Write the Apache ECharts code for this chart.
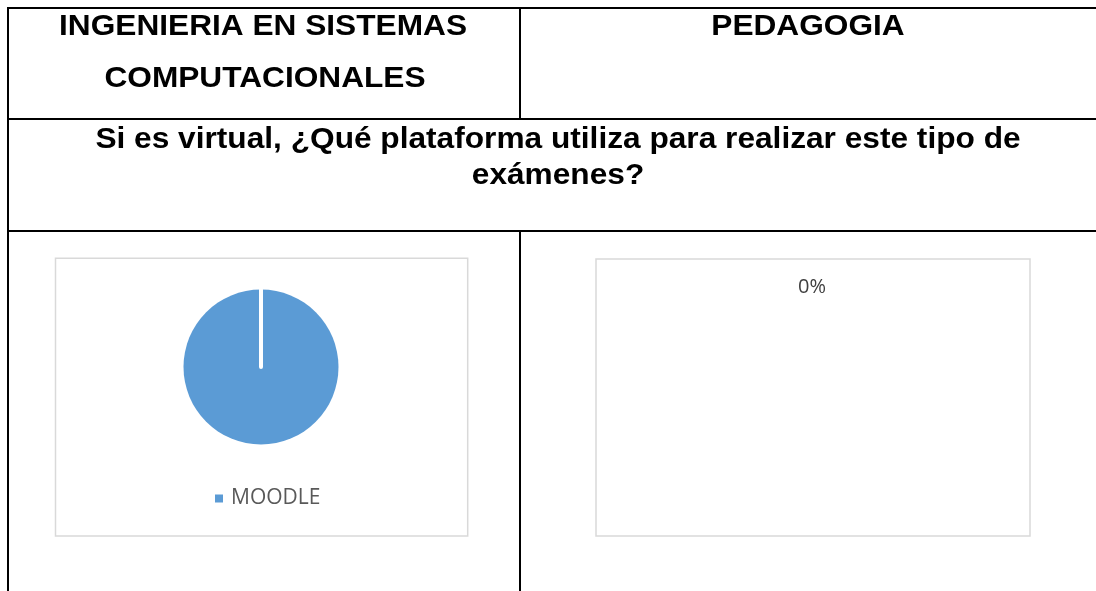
<!DOCTYPE html>
<html>
<head>
<meta charset="utf-8">
<script src="https://cdn.jsdelivr.net/npm/echarts@6/dist/echarts.min.js"></script>
<style>
  html, body { margin: 0; padding: 0; background: #fff; }
  #tabla { width: 1096px; height: 591px; }
</style>
</head>
<body>
<div id="tabla"></div>
<script>
// datos de la pregunta
const categorias = ['MOODLE', 'OTRA'];
const ingSistemas = [100, 0];   // ingeniería en sistemas computacionales
const pedagogia = [0];          // pedagogía (sin respuestas)
const leyenda = ['MOODLE'];

const carreraIzq = ['INGENIERIA EN SISTEMAS', 'COMPUTACIONALES'];
const carreraDer = 'PEDAGOGIA';
const pregunta = ['Si es virtual, ¿Qué plataforma utiliza para realizar este tipo de', 'exámenes?'];

const tablaChart = echarts.init(document.getElementById('tabla'));

const titulo = function (texto, x, y) {
    return {
        type: 'text', x: x, y: y, scaleX: 1.055,
        style: {
            text: texto, align: 'center', verticalAlign: 'middle',
            fontFamily: 'Liberation Sans', fontWeight: 'bold', fontSize: 30, fill: '#000'
        }
    };
};

const linea = function (x1, y1, x2, y2) {
    return {
        type: 'line', shape: { x1: x1, y1: y1, x2: x2, y2: y2 },
        style: { stroke: '#000', lineWidth: 2 }
    };
};

const caja = function (x, y, w, h) {
    return {
        type: 'rect', shape: { x: x, y: y, width: w, height: h },
        style: { fill: 'none', stroke: '#d9d9d9', lineWidth: 1.5 }
    };
};

const option = {
    animation: false,
    backgroundColor: '#fff',
    graphic: [
        // bordes de la tabla
        linea(7, 8, 1096, 8),
        linea(8, 7, 8, 591),
        linea(520, 8, 520, 119),
        linea(7, 119, 1096, 119),
        linea(7, 231, 1096, 231),
        linea(520, 231, 520, 591),
        // encabezados
        titulo(carreraIzq[0], 263, 27),
        titulo(carreraIzq[1], 265, 79),
        titulo(carreraDer, 808, 27),
        titulo(pregunta[0], 558, 140),
        titulo(pregunta[1], 558, 176),
        // marcos de los gráficos
        caja(55.5, 258.3, 412.2, 277.7),
        caja(596, 259, 434, 277)
    ],
    legend: {
        data: leyenda,
        left: 215,
        top: 488,
        padding: 0,
        icon: 'rect',
        itemWidth: 8,
        itemHeight: 8,
        itemGap: 10,
        textStyle: { fontFamily: 'Open Sans', fontSize: 21, color: '#595959', padding: [0, 0, 0, 3] }
    },
    series: [
        {
            type: 'pie',
            center: [261, 367],
            radius: 77.5,
            startAngle: 90,
            label: { show: false },
            labelLine: { show: false },
            emphasis: { disabled: true },
            data: categorias.map(function (c, i) {
                return {
                    name: c,
                    value: ingSistemas[i],
                    itemStyle: i === 0
                        ? { color: '#5b9bd5', borderWidth: 0 }
                        : { color: '#5b9bd5', borderColor: '#ffffff', borderWidth: 4 }
                };
            })
        },
        {
            type: 'pie',
            center: [812, 287],
            radius: [0, 1],
            stillShowZeroSum: true,
            itemStyle: { color: 'rgba(0,0,0,0)' },
            emphasis: { disabled: true },
            label: {
                show: true,
                position: 'center',
                formatter: '{d}%',
                fontFamily: 'Open Sans',
                fontSize: 20,
                color: '#404040'
            },
            data: pedagogia.map(function (v, i) {
                return { name: categorias[i], value: v };
            })
        }
    ]
};

tablaChart.setOption(option);
</script>
</body>
</html>
